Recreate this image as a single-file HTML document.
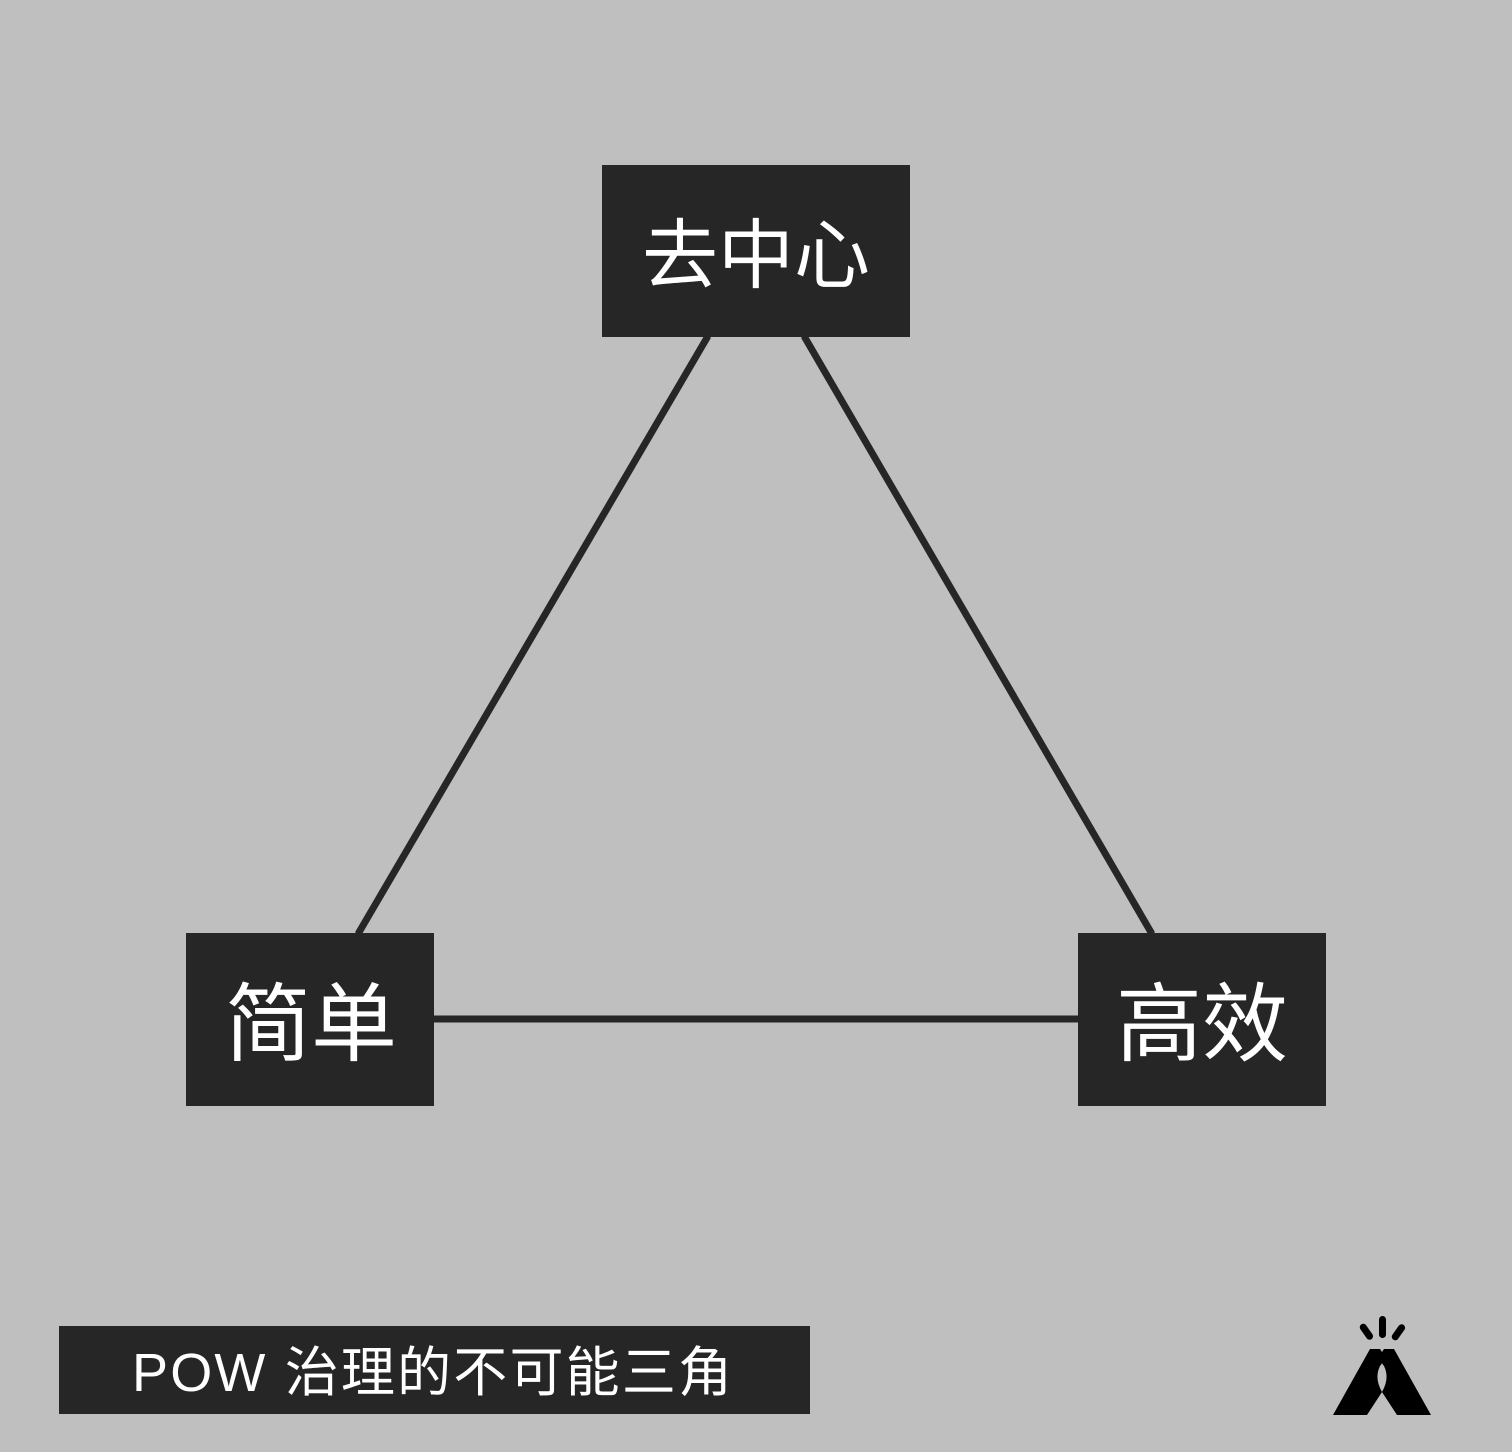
<!DOCTYPE html>
<html><head><meta charset="utf-8"><style>
html,body{margin:0;padding:0;background:#bfbfbf;}
svg{display:block}
text{font-family:"Liberation Sans","Noto Sans CJK SC",sans-serif;fill:#fff}
</style></head><body>
<svg width="1512" height="1452" viewBox="0 0 1512 1452" xmlns="http://www.w3.org/2000/svg">
<rect width="1512" height="1452" fill="#bfbfbf"/>
<g stroke="#262626" stroke-width="7" fill="none">
<line x1="708" y1="336" x2="358" y2="934"/>
<line x1="804" y1="336" x2="1152" y2="934"/>
<line x1="433" y1="1019" x2="1079" y2="1019"/>
</g>
<rect x="602" y="165" width="308" height="172" fill="#262626"/>
<rect x="186" y="933" width="248" height="173" fill="#262626"/>
<rect x="1078" y="933" width="248" height="173" fill="#262626"/>
<rect x="59" y="1326" width="751" height="88" fill="#262626"/>
<text x="756" y="282" font-size="76" text-anchor="middle">去中心</text>
<text x="311" y="1054" font-size="86" text-anchor="middle">简单</text>
<text x="1202" y="1054" font-size="86" text-anchor="middle">高效</text>
<text x="132" y="1391" font-size="54" textLength="600" lengthAdjust="spacing">POW 治理的不可能三角</text>
<g fill="#000">
<path d="M1370 1349 L1380 1349 Q1387 1358 1380 1366 Q1374 1378 1382 1392 L1367 1415 L1333 1415 Z"/>
<path d="M1394 1349 L1384 1349 Q1377 1358 1384 1366 Q1390 1378 1382 1392 L1397 1415 L1431 1415 Z"/>
<rect x="1379" y="1316" width="7" height="22" rx="3.5"/>
<rect x="1363" y="1323" width="7" height="18" rx="3.5" transform="rotate(-35 1366 1332)"/>
<rect x="1395" y="1323" width="7" height="18" rx="3.5" transform="rotate(35 1398 1332)"/>
</g>
</svg>
</body></html>
